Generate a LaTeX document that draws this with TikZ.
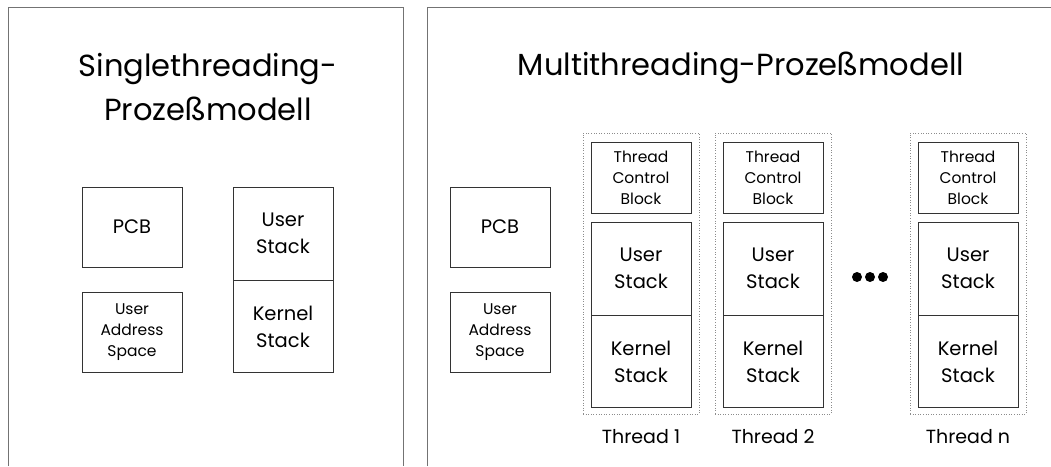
\documentclass[tikz,border=0pt]{standalone}
\usepackage{fontspec}
\setmainfont{Poppins}
\usetikzlibrary{positioning}
\begin{document}
\begin{tikzpicture}[x=1pt, y=-1pt,
  frame line/.style={draw=black!55, line width=0.9pt},
  part box/.style={draw=black!80, line width=0.9pt, fill=white,
                   minimum width=100pt, inner sep=0pt, align=center,
                   font=\fontsize{19.5}{27}\selectfont},
  small box/.style={part box, font=\fontsize{15.5}{21}\selectfont},
  thread frame/.style={draw=black!45, dotted, line width=0.6pt,
                       minimum width=116pt, minimum height=281pt, inner sep=0pt},
  title/.style={font=\fontsize{30.5}{44}\selectfont, align=center, anchor=base},
  thread label/.style={font=\fontsize{19}{22}\selectfont, anchor=base},
  dot/.style={circle, fill=black, minimum size=10pt, inner sep=0pt},
]
  \useasboundingbox (0,0) rectangle (1051,466);

  % #1 name, #2 centre x, #3 label
  \newcommand{\threadcolumn}[3]{%
    \node[thread frame] (#1-frame) at (#2,273.5) {};
    \node[small box, minimum height=71pt] (#1-tcb) at (#2,177.5) {Thread\\Control\\Block};
    \node[part box, minimum height=93pt] (#1-user) at (#2,268.5) {User\\Stack};
    \node[part box, minimum height=92pt, below=0pt of #1-user] (#1-kernel) {Kernel\\Stack};
    \node[thread label] (#1-label) at (#2,443) {#3};
  }

  % Open frames, cut off at the bottom.
  \draw[frame line] (8,466) -- (8,7) -- (403,7) -- (403,466);
  \draw[frame line] (427,466) -- (427,7) -- (1051,7);

  % Single threading.
  \node[title] (single-title) at (208,120) {Singlethreading-\\Prozeßmodell};
  \node[part box, minimum height=80pt] (s-pcb) at (132,227) {PCB};
  \node[small box, minimum height=80pt] (s-space) at (132,332) {User\\Address\\Space};
  \node[part box, minimum height=93pt] (s-user) at (283,233.5) {User\\Stack};
  \node[part box, minimum height=92pt, below=0pt of s-user] (s-kernel) {Kernel\\Stack};

  % Multi threading.
  \node[title] (multi-title) at (741,75) {Multithreading-Prozeßmodell};
  \node[part box, minimum height=80pt] (m-pcb) at (500,227) {PCB};
  \node[small box, minimum height=80pt] (m-space) at (500,332) {User\\Address\\Space};
  \threadcolumn{t1}{641}{Thread 1}
  \threadcolumn{t2}{773}{Thread 2}
  \threadcolumn{tn}{968}{Thread n}
  \foreach \dx [count=\i] in {857,870,883}
    \node[dot] (dot-\i) at (\dx,277) {};
\end{tikzpicture}
\end{document}
